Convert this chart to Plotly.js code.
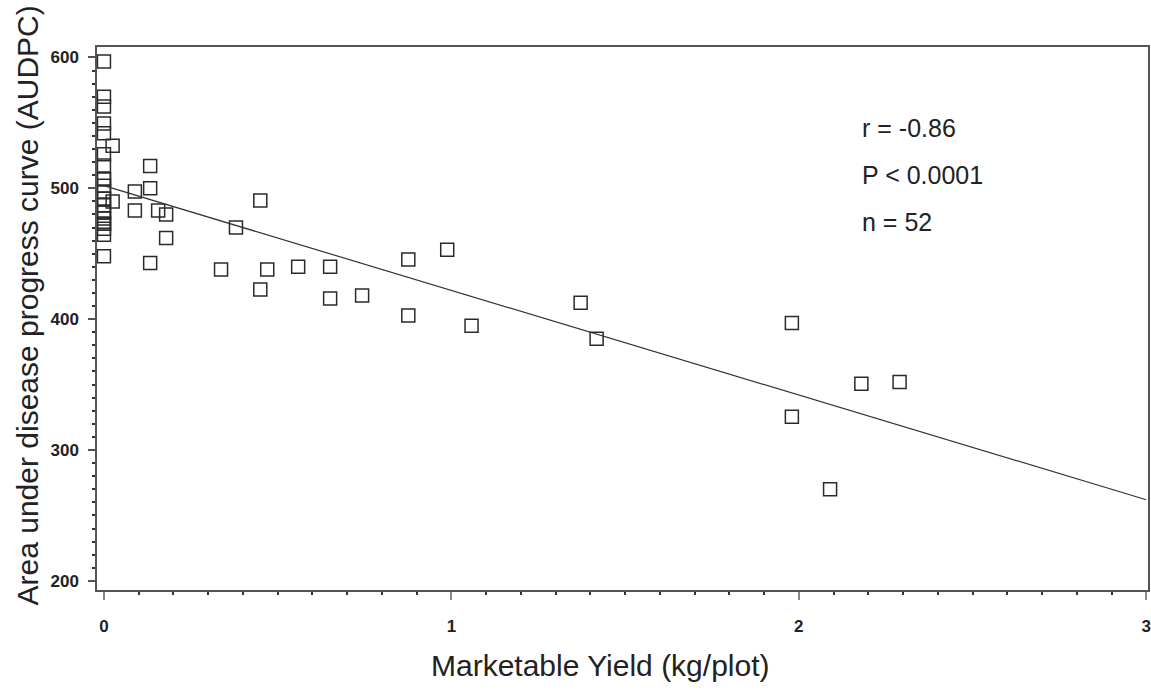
<!DOCTYPE html>
<html>
<head>
<meta charset="utf-8">
<script src="https://cdn.plot.ly/plotly-3.0.1.min.js"></script>
<style>html,body{margin:0;padding:0;background:#fff;}#chart{width:1151px;height:693px;}</style>
</head>
<body>
<div id="chart"></div>
<script>
// Marketable yield (kg/plot)
const yieldX = [
  0,0,0,0,0,0.025,0,0,0,0,0,0,0,0.025,0,0,0,0,0,0,0,0,0,0,
  0.089,0.089,0.133,0.133,0.133,0.156,0.179,0.179,
  0.337,0.380,0.450,0.450,0.470,0.559,0.651,0.651,0.743,
  0.876,0.876,0.988,1.058,1.372,1.418,1.980,1.980,2.180,2.290,2.090
];
// AUDPC
const audpc = [
  597,570,562.5,549.5,542,532.5,526,517.5,507,507,502,497.5,492,490,492,487,481.5,481.5,477,473,473,469,464.6,448,
  497.5,483,517,500,443,483,480,462,
  438,470,490.6,422.6,438,440,440,415.7,418,
  445.5,402.7,453,395,412.6,385,397,325.4,350.7,352,270
];

// Fitted regression line end points
const fitX = [0, 3];
const fitY = [502, 262];

const xTickVals = [0, 1, 2, 3];
const yTickVals = [200, 300, 400, 500, 600];
const statLabels = ["r = -0.86", "P < 0.0001", "n = 52"];
const xTitle = "Marketable Yield (kg/plot)";
const yTitle = "Area under disease progress curve (AUDPC)";

const titleFont = {family: "Liberation Sans, Arial, sans-serif", size: 30, color: "#222"};
const tickFont = {family: "Liberation Sans, Arial, sans-serif", size: 17, color: "#222", weight: "bold"};

const traces = [
  {
    x: yieldX, y: audpc, type: "scatter", mode: "markers",
    marker: {symbol: "square-open", size: 13, color: "#2a2a2a", line: {width: 1.5, color: "#2a2a2a"}},
    hoverinfo: "x+y", showlegend: false
  },
  {
    x: fitX, y: fitY, type: "scatter", mode: "lines",
    line: {color: "#333", width: 1.2}, hoverinfo: "skip", showlegend: false
  }
];

const statY = [0.851, 0.764, 0.678];
const annotations = statLabels.map((t, i) => ({
  text: t, xref: "paper", yref: "paper", x: 0.726, y: statY[i],
  xanchor: "left", yanchor: "middle", showarrow: false,
  font: {family: "Liberation Sans, Arial, sans-serif", size: 25, color: "#222"}
}));
annotations.push({
  text: xTitle, xref: "paper", yref: "paper", x: 0.479, y: -0.139,
  xanchor: "center", yanchor: "middle", showarrow: false, font: titleFont
});
annotations.push({
  text: yTitle, xref: "paper", yref: "paper", x: -0.0666, y: 0.524,
  xanchor: "center", yanchor: "middle", showarrow: false, textangle: -90, font: titleFont
});

const layout = {
  width: 1151, height: 693,
  margin: {l: 97, r: 3, t: 47, b: 103},
  paper_bgcolor: "#fff", plot_bgcolor: "#fff",
  showlegend: false,
  xaxis: {
    range: [-0.02, 3.005], tickvals: xTickVals,
    showgrid: false, zeroline: false,
    showline: true, linecolor: "#555", linewidth: 1.5, mirror: true,
    ticks: "outside", ticklen: 8, tickwidth: 1.5, tickcolor: "#888",
    ticklabelstandoff: 12,
    minor: {dtick: 0.1, tick0: 0, ticks: "outside", ticklen: 3, tickwidth: 1.5, tickcolor: "#333", showgrid: false},
    tickfont: tickFont
  },
  yaxis: {
    range: [193, 608], tickvals: yTickVals,
    showgrid: false, zeroline: false,
    showline: true, linecolor: "#555", linewidth: 1.5, mirror: true,
    ticks: "outside", ticklen: 7, tickwidth: 1.5, tickcolor: "#555",
    ticklabelstandoff: 6,
    minor: {dtick: 10, tick0: 200, ticks: "outside", ticklen: 3, tickwidth: 1.5, tickcolor: "#333", showgrid: false},
    tickfont: tickFont
  },
  annotations: annotations
};

Plotly.newPlot("chart", traces, layout, {displayModeBar: false});
</script>
</body>
</html>
